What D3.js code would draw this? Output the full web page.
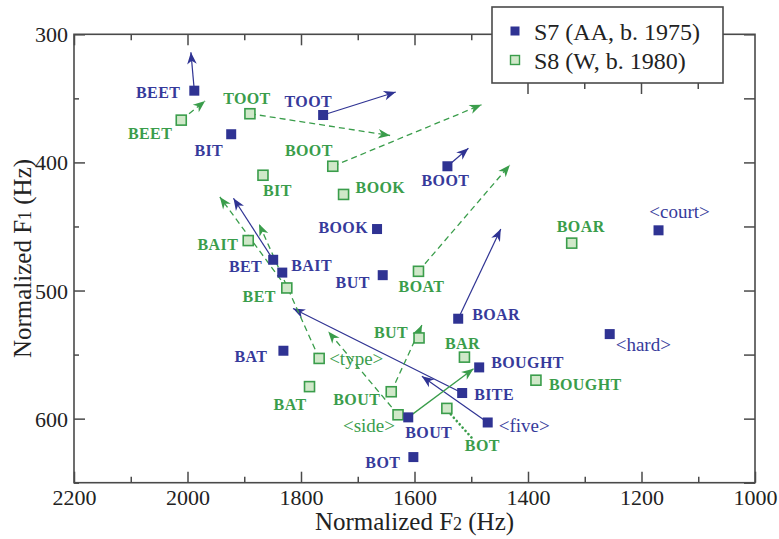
<!DOCTYPE html>
<html>
<head>
<meta charset="utf-8">
<script src="https://cdn.jsdelivr.net/npm/d3@7"></script>
<style>
  body { margin: 0; background: #fff; }
  svg { font-family: 'Liberation Serif', 'Times New Roman', Times, 'DejaVu Serif', serif; }
</style>
</head>
<body>
<div id="chart-area"></div>
<script>
// S7 (AA, b. 1975)
const s7Words = ['BEET', 'BIT', 'TOOT', 'BOOT', 'BOOK', 'BET', 'BAIT', 'BUT', 'BOAR', 'BAT',
  '<hard>', '<court>', 'BOUGHT', 'BITE', '<five>', 'BOUT', 'BOT'];
const s7F2 = [1988, 1923, 1761, 1542, 1666, 1849, 1833, 1656, 1523, 1831, 1256, 1170, 1486, 1516, 1471, 1611, 1602];
const s7F1 = [344, 378, 363, 403, 452, 476, 486, 488, 522, 547, 534, 453, 560, 580, 603, 599, 630];

// S8 (W, b. 1980)
const s8Words = ['BEET', 'TOOT', 'BIT', 'BOOT', 'BOOK', 'BAIT', 'BET', 'BOAT', 'BOAR', 'BUT',
  '<type>', 'BAR', 'BAT', 'BOUT', '<side>', 'BOUGHT', 'BOT'];
const s8F2 = [2011, 1890, 1867, 1744, 1725, 1893, 1825, 1593, 1323, 1592, 1768, 1512, 1785, 1641, 1629, 1386, 1543];
const s8F1 = [367, 362, 410, 403, 425, 461, 498, 485, 463, 537, 553, 552, 575, 579, 597, 570, 592];

// arrows: start word, target F2, target F1
const s7ArrowFrom = ['BEET', 'TOOT', 'BOOT', 'BET', 'BOAR', 'BITE', '<five>'];
const s7ArrowF2 = [1994, 1633, 1505, 1919, 1448, 1814, 1587];
const s7ArrowF1 = [314, 345, 389, 428, 452, 514, 567];

const s8ArrowFrom = ['BEET', 'TOOT', 'BOOT', 'BET', 'BOAT', '<type>', 'BOUT', '<side>', 'S7:BOUT'];
const s8ArrowF2 = [1969, 1643, 1482, 1943, 1432, 1874, 1587, 1752, 1496];
const s8ArrowF1 = [352, 379, 355, 427, 402, 448, 527, 532, 561];

// BOT (S8) label connector
const s8DotFrom = 'BOT';
const s8DotF2 = 1499;
const s8DotF1 = 615;

const xTicks = [2200, 2000, 1800, 1600, 1400, 1200, 1000];
const xMinor = [2100, 1900, 1700, 1500, 1300, 1100];
const yTicks = [300, 400, 500, 600];
const yMinor = [350, 450, 550, 650];

const legendLabels = ['S7 (AA, b. 1975)', 'S8 (W, b. 1980)'];

// ---- drawing ----
const W = 779, H = 539;
const box = { left: 74, right: 755, top: 34.3, bottom: 482.7 };
const legendBox = { x: 492, y: 7, w: 231, h: 76 };
const blue = '#2f3393';
const blueText = '#363a9b';
const green = '#3a9d4b';
const greenFill = '#d0e8c9';
const axisColor = '#4a4a4a';
const serif = "'Liberation Serif', 'Times New Roman', Times, 'DejaVu Serif', serif";

const x = d3.scaleLinear().domain([2200, 1000]).range([box.left, box.right]);
const y = d3.scaleLinear().domain([300, 650]).range([box.top, box.bottom]);

// label placement: anchor, dx, dy (pixels from marker centre)
const s7LabelAt = {
  'BEET': ['end', -14, 7], 'BIT': ['end', -8, 22], 'TOOT': ['end', 9, -8], 'BOOT': ['middle', -2, 20],
  'BOOK': ['end', -9, 4], 'BET': ['end', -11, 12], 'BAIT': ['start', 9, -2], 'BUT': ['end', -13, 13],
  'BOAR': ['start', 14, 1], 'BAT': ['end', -16, 11], '<hard>': ['start', 6, 17], '<court>': ['middle', 21, -12],
  'BOUGHT': ['start', 12, 1], 'BITE': ['start', 12, 7], '<five>': ['start', 11, 10], 'BOUT': ['start', -3, 21],
  'BOT': ['end', -13, 11]
};
const s8LabelAt = {
  'BEET': ['end', -9, 19], 'TOOT': ['middle', -3, -10], 'BIT': ['start', 0, 21], 'BOOT': ['end', 0, -10],
  'BOOK': ['start', 12, -1], 'BAIT': ['end', -10, 9], 'BET': ['end', -11, 14], 'BOAT': ['middle', 3, 21],
  'BOAR': ['middle', 9, -11], 'BUT': ['end', -11, 0], '<type>': ['start', 10, 7], 'BAR': ['middle', -2, -8],
  'BAT': ['end', -3, 23], 'BOUT': ['end', -11, 13], '<side>': ['end', -3, 17], 'BOUGHT': ['start', 13, 10],
  'BOT': ['start', 18, 43]
};

const s7 = s7Words.map((w, i) => ({ word: w, f2: s7F2[i], f1: s7F1[i] }));
const s8 = s8Words.map((w, i) => ({ word: w, f2: s8F2[i], f1: s8F1[i] }));
const findPoint = (series, key) => {
  if (key.startsWith('S7:')) return s7.find(d => d.word === key.slice(3));
  return series.find(d => d.word === key);
};

const svg = d3.select('#chart-area').append('svg')
  .attr('width', W)
  .attr('height', H);

const defs = svg.append('defs');
[['arrow-blue', blue], ['arrow-green', green]].forEach(([id, col]) => {
  defs.append('marker')
    .attr('id', id)
    .attr('viewBox', '-13 -6 14 12')
    .attr('refX', 0)
    .attr('refY', 0)
    .attr('markerWidth', 14)
    .attr('markerHeight', 12)
    .attr('markerUnits', 'userSpaceOnUse')
    .attr('orient', 'auto')
    .append('path')
    .attr('d', 'M0,0 L-12,-4.8 L-8.5,0 L-12,4.8 Z')
    .attr('fill', col);
});

// axes (ticks point inward)
const addAxis = (axis, tf) => {
  const g = svg.append('g').attr('transform', tf).call(axis);
  g.attr('font-family', serif);
  g.select('.domain').remove();
  g.selectAll('.tick line').attr('stroke', axisColor).attr('stroke-width', 1.5);
  g.selectAll('.tick text')
    .attr('fill', '#222')
    .style('font-family', serif)
    .style('font-size', '22px');
  return g;
};

addAxis(d3.axisBottom(x).tickValues(xTicks).tickSize(-11).tickPadding(10).tickFormat(d3.format('d')),
  `translate(0,${box.bottom})`)
  .selectAll('.tick text').attr('dy', null).attr('y', 22);
addAxis(d3.axisBottom(x).tickValues(xMinor).tickSize(-6).tickFormat(''), `translate(0,${box.bottom})`);

const topMajor = addAxis(d3.axisTop(x).tickValues(xTicks.slice(0, -1)).tickSize(-11).tickFormat(''), `translate(0,${box.top})`);
const topMinor = addAxis(d3.axisTop(x).tickValues(xMinor).tickSize(-6).tickFormat(''), `translate(0,${box.top})`);
// ticks hidden by the legend start at its lower edge
[topMajor, topMinor].forEach(g => g.selectAll('.tick')
  .filter(d => x(d) > legendBox.x && x(d) < legendBox.x + legendBox.w)
  .attr('transform', d => `translate(${x(d)},${legendBox.y + legendBox.h - box.top})`));

addAxis(d3.axisLeft(y).tickValues(yTicks).tickSize(-11).tickPadding(6), `translate(${box.left},0)`)
  .selectAll('.tick text').attr('x', -6).attr('dy', '0.34em');
addAxis(d3.axisLeft(y).tickValues(yMinor).tickSize(-5).tickFormat(''), `translate(${box.left},0)`);
addAxis(d3.axisRight(y).tickValues(yTicks.concat(yMinor)).tickSize(-11).tickFormat(''), `translate(${box.right},0)`);

svg.append('rect')
  .attr('x', box.left).attr('y', box.top)
  .attr('width', box.right - box.left).attr('height', box.bottom - box.top)
  .attr('fill', 'none').attr('stroke', axisColor).attr('stroke-width', 1.6);

// axis titles
const xTitle = svg.append('text')
  .attr('x', (box.left + box.right) / 2).attr('y', 530)
  .attr('text-anchor', 'middle').attr('fill', '#222').style('font-size', '25px');
xTitle.append('tspan').text('Normalized F');
xTitle.append('tspan').style('font-size', '18px').text('2');
xTitle.append('tspan').text(' (Hz)');

const yTitle = svg.append('text')
  .attr('transform', `translate(31,${(box.top + box.bottom) / 2}) rotate(-90)`)
  .attr('text-anchor', 'middle').attr('fill', '#222').style('font-size', '25px');
yTitle.append('tspan').text('Normalized F');
yTitle.append('tspan').style('font-size', '18px').text('1');
yTitle.append('tspan').text(' (Hz)');

// arrows
const arrowsG = svg.append('g');
s7ArrowFrom.forEach((w, i) => {
  const p = findPoint(s7, w);
  arrowsG.append('line')
    .attr('x1', x(p.f2)).attr('y1', y(p.f1))
    .attr('x2', x(s7ArrowF2[i])).attr('y2', y(s7ArrowF1[i]))
    .attr('stroke', blue).attr('stroke-width', 1.2)
    .attr('marker-end', 'url(#arrow-blue)');
});
s8ArrowFrom.forEach((w, i) => {
  const p = findPoint(s8, w);
  const solid = w.startsWith('S7:');
  arrowsG.append('line')
    .attr('x1', x(p.f2)).attr('y1', y(p.f1))
    .attr('x2', x(s8ArrowF2[i])).attr('y2', y(s8ArrowF1[i]))
    .attr('stroke', green).attr('stroke-width', 1.3)
    .attr('stroke-dasharray', solid ? null : '6,4')
    .attr('marker-end', 'url(#arrow-green)');
});
const botPt = findPoint(s8, s8DotFrom);
arrowsG.append('line')
  .attr('x1', x(botPt.f2) + 4).attr('y1', y(botPt.f1) + 6)
  .attr('x2', x(s8DotF2)).attr('y2', y(s8DotF1))
  .attr('stroke', green).attr('stroke-width', 2.6)
  .attr('stroke-linecap', 'round').attr('stroke-dasharray', '0.1,4.3');

// markers
const sq = 10;
svg.append('g').selectAll('rect')
  .data(s8).join('rect')
  .attr('x', d => x(d.f2) - sq / 2).attr('y', d => y(d.f1) - sq / 2)
  .attr('width', sq).attr('height', sq)
  .attr('fill', greenFill).attr('stroke', green).attr('stroke-width', 1.6);
svg.append('g').selectAll('rect')
  .data(s7).join('rect')
  .attr('x', d => x(d.f2) - sq / 2).attr('y', d => y(d.f1) - sq / 2)
  .attr('width', sq).attr('height', sq)
  .attr('fill', blue);

// labels
const drawLabels = (data, at, col) => {
  svg.append('g').selectAll('text')
    .data(data).join('text')
    .attr('x', d => x(d.f2) + at[d.word][1])
    .attr('y', d => y(d.f1) + at[d.word][2])
    .attr('text-anchor', d => at[d.word][0])
    .attr('fill', col)
    .style('font-size', d => d.word.startsWith('<') ? '19px' : '16px')
    .style('font-weight', d => d.word.startsWith('<') ? 'normal' : 'bold')
    .style('letter-spacing', d => d.word.startsWith('<') ? '0px' : '0.4px')
    .text(d => d.word);
};
drawLabels(s7, s7LabelAt, blueText);
drawLabels(s8, s8LabelAt, green);

// legend
const legend = svg.append('g');
legend.append('rect')
  .attr('x', legendBox.x).attr('y', legendBox.y)
  .attr('width', legendBox.w).attr('height', legendBox.h)
  .attr('fill', '#fff').attr('stroke', axisColor).attr('stroke-width', 1.6);
legendLabels.forEach((t, i) => {
  const cy = 31 + i * 29;
  legend.append('rect')
    .attr('x', 515 - 4.5).attr('y', cy - 4.5)
    .attr('width', 9).attr('height', 9)
    .attr('fill', i === 0 ? blue : greenFill)
    .attr('stroke', i === 0 ? 'none' : green).attr('stroke-width', 1.4);
  legend.append('text')
    .attr('x', 534).attr('y', cy + 9)
    .attr('fill', '#222').style('font-size', '24px')
    .text(t);
});
</script>
</body>
</html>
